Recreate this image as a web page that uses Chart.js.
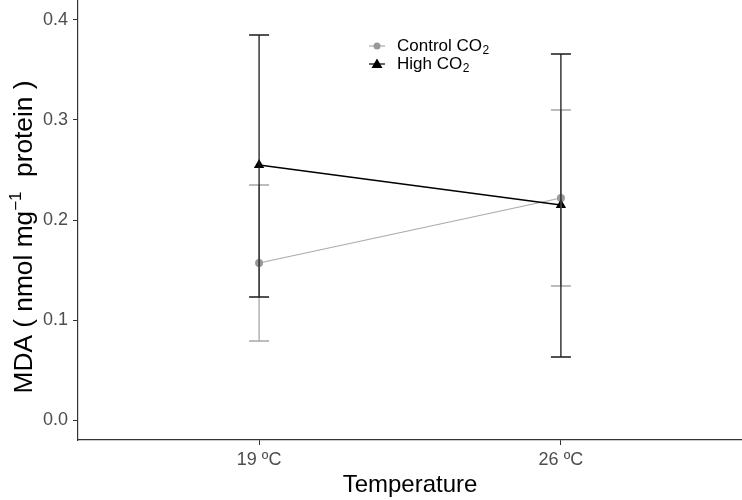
<!DOCTYPE html>
<html><head><meta charset="utf-8">
<script src="https://cdn.jsdelivr.net/npm/chart.js@4"></script>
<style>html,body{margin:0;padding:0;background:#fff}#wrap{width:742px;height:500px}</style>
</head><body><div id="wrap"><canvas id="c" width="742" height="500"></canvas></div>
<script>
const categories = ["19 ºC", "26 ºC"];
const controlMean = [0.157, 0.222];
const controlLow  = [0.079, 0.134];
const controlHigh = [0.235, 0.310];
const highMean = [0.255, 0.215];
const highLow  = [0.123, 0.063];
const highHigh = [0.385, 0.366];
const yTicks = [0.0, 0.1, 0.2, 0.3, 0.4];

const FONT = "'Liberation Sans', Arial, sans-serif";

const errorBars = {
  id: 'errorBars',
  afterDatasetsDraw(chart) {
    const ctx = chart.ctx, xs = chart.scales.x, ys = chart.scales.y;
    chart.data.datasets.forEach(ds => {
      ctx.save();
      ctx.strokeStyle = ds.errColor; ctx.lineWidth = 1.3;
      ds.data.forEach((p, i) => {
        const x = xs.getPixelForValue(p.x);
        const y1 = ys.getPixelForValue(ds.lo[i]), y2 = ys.getPixelForValue(ds.hi[i]);
        ctx.beginPath();
        ctx.moveTo(x, y1); ctx.lineTo(x, y2);
        ctx.moveTo(x - 10, y1); ctx.lineTo(x + 10, y1);
        ctx.moveTo(x - 10, y2); ctx.lineTo(x + 10, y2);
        ctx.stroke();
      });
      ctx.restore();
    });
  }
};

const texts = {
  id: 'texts',
  afterDraw(chart) {
    const ctx = chart.ctx;
    ctx.save();
    ctx.fillStyle = '#000';
    ctx.font = '24px ' + FONT;
    ctx.textAlign = 'center'; ctx.textBaseline = 'alphabetic';
    ctx.fillText('Temperature', 410, 492);
    ctx.translate(32, 237);
    ctx.rotate(-Math.PI / 2);
    const big = '25px ' + FONT, small = '16px ' + FONT;
    const parts = [['MDA ( nmol mg', big, 0], ['\u22121', small, -11], ['  protein )', big, 0]];
    let w = 0;
    parts.forEach(p => { ctx.font = p[1]; w += ctx.measureText(p[0]).width; });
    ctx.scale(313 / w, 1);
    let cx = -w / 2;
    ctx.textAlign = 'left';
    parts.forEach(p => { ctx.font = p[1]; ctx.fillText(p[0], cx, p[2]); cx += ctx.measureText(p[0]).width; });
    ctx.restore();

    ctx.save();
    const items = [
      {label: 'Control CO', color: '#999999', line: '#aaaaaa', style: 'circle', y: 46},
      {label: 'High CO', color: '#000000', line: '#000000', style: 'triangle', y: 64}
    ];
    items.forEach(it => {
      ctx.strokeStyle = it.line; ctx.lineWidth = 1.2;
      ctx.beginPath(); ctx.moveTo(369, it.y); ctx.lineTo(385, it.y); ctx.stroke();
      ctx.fillStyle = it.color;
      ctx.beginPath();
      if (it.style === 'circle') { ctx.arc(377, it.y, 3.5, 0, Math.PI * 2); }
      else { ctx.moveTo(377, it.y - 5.5); ctx.lineTo(382.5, it.y + 4); ctx.lineTo(371.5, it.y + 4); ctx.closePath(); }
      ctx.fill();
      ctx.fillStyle = '#000';
      ctx.font = '17px ' + FONT; ctx.textAlign = 'left'; ctx.textBaseline = 'middle';
      ctx.fillText(it.label, 397, it.y);
      const tw = ctx.measureText(it.label).width;
      ctx.font = '12px ' + FONT;
      ctx.fillText('2', 397 + tw + 0.5, it.y + 5);
    });
    ctx.restore();
  }
};

const xVals = categories.map((_, i) => i + 1);

new Chart(document.getElementById('c'), {
  type: 'line',
  data: {
    datasets: [
      {
        label: 'Control CO2',
        data: xVals.map((x, i) => ({x, y: controlMean[i]})),
        lo: controlLow, hi: controlHigh, errColor: '#a6a6a6',
        borderColor: '#aaaaaa', backgroundColor: '#999999', borderWidth: 1.2,
        pointStyle: 'circle', pointRadius: 4, pointBorderWidth: 0, pointBackgroundColor: '#999999',
        order: 2, clip: false
      },
      {
        label: 'High CO2',
        data: xVals.map((x, i) => ({x, y: highMean[i]})),
        lo: highLow, hi: highHigh, errColor: '#1a1a1a',
        borderColor: '#000000', backgroundColor: '#000000', borderWidth: 1.3,
        pointStyle: 'triangle', pointRadius: 6, pointBorderWidth: 0, pointBackgroundColor: '#000000',
        order: 1, clip: false
      }
    ]
  },
  options: {
    responsive: false, animation: false, devicePixelRatio: 1,
    layout: {padding: 0, autoPadding: false},
    plugins: {legend: {display: false}, tooltip: {enabled: false}},
    scales: {
      x: {
        type: 'linear', min: 0.4, max: 2.6,
        afterBuildTicks(s) { s.ticks = xVals.map(v => ({value: v})); },
        afterFit(s) { s.height = 60; s.paddingLeft = 0; s.paddingRight = 0; },
        grid: {drawOnChartArea: false, drawTicks: true, tickLength: 5, color: '#333333', lineWidth: 1},
        border: {display: true, color: '#333333', width: 1.2},
        ticks: {callback: v => categories[v - 1], color: '#4d4d4d', font: {size: 18, family: FONT}, padding: 4, maxRotation: 0}
      },
      y: {
        type: 'linear', min: -0.02, max: 0.42,
        afterBuildTicks(s) { s.ticks = yTicks.map(v => ({value: v})); },
        afterFit(s) { s.width = 78; s.paddingTop = 0; s.paddingBottom = 0; },
        grid: {drawOnChartArea: false, drawTicks: true, tickLength: 5, color: '#333333', lineWidth: 1},
        border: {display: true, color: '#333333', width: 1.2},
        ticks: {callback: v => v.toFixed(1), color: '#4d4d4d', font: {size: 18, family: FONT}, padding: 5}
      }
    }
  },
  plugins: [errorBars, texts]
});
</script></body></html>
